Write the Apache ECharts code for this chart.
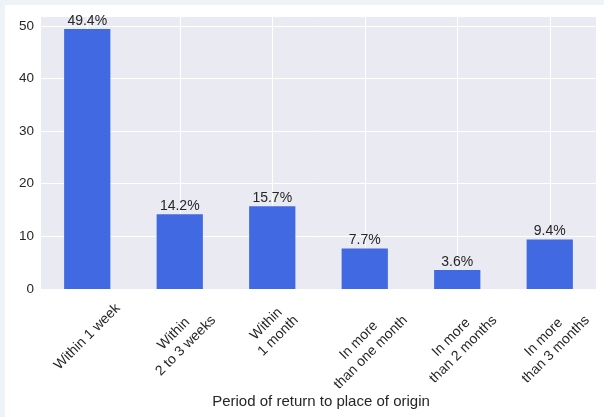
<!DOCTYPE html>
<html><head><meta charset="utf-8">
<script src="https://cdn.jsdelivr.net/npm/echarts@6/dist/echarts.min.js"></script>
<style>
html,body{margin:0;padding:0;background:#eef3f8;width:604px;height:417px;overflow:hidden}
#c{position:absolute;left:5px;top:5px;width:599px;height:412px;background:#ffffff}
</style></head>
<body><div id="c"></div>
<script>
const categories = ['Within 1 week', 'Within\n2 to 3 weeks', 'Within\n1 month', 'In more\nthan one month', 'In more\nthan 2 months', 'In more\nthan 3 months'];
const values = [49.4, 14.2, 15.7, 7.7, 3.6, 9.4];
const yTickInterval = 10;
const yMax = 51.87;
const xAxisTitle = 'Period of return to place of origin';

// ---- layout / style ----
const FONT = '"Liberation Sans", Arial, sans-serif';
const FS = 14, LH = 17, PAD = 11;
const cv = document.createElement('canvas').getContext('2d');
cv.font = FS + 'px ' + FONT;
// place each rotated label like matplotlib: rotated bounding box centred under the tick, top PAD px below axis
const catData = categories.map((t) => {
  const lines = t.split('\n');
  const w = Math.max(...lines.map(l => cv.measureText(l).width));
  const H = lines.length * LH;
  const Y = PAD + 0.35355 * (w + H);   // screen offset of block centre below axis
  const X = 0;
  const b = (X + Y) / 1.41421;         // local (rotated) down offset of centre
  const a = (X - Y) / 1.41421;         // local along-text offset of centre
  const top = Math.max(0, b - H / 2);
  const left = a > 0 ? 2 * a : 0;
  const right = a < 0 ? -2 * a : 0;
  return { value: t, textStyle: { align: 'center', verticalAlign: 'top', padding: [top, right, 0, left], lineHeight: LH, fontSize: FS, fontFamily: FONT, color: '#262626' } };
});

const chart = echarts.init(document.getElementById('c'), null, { renderer: 'canvas' });
chart.setOption({
  animation: false,
  backgroundColor: '#ffffff',
  grid: { left: 36, top: 11, width: 555, height: 273, show: true, backgroundColor: '#eaeaf2', borderWidth: 0, containLabel: false, outerBoundsMode: 'none' },
  xAxis: {
    type: 'category',
    data: catData,
    boundaryGap: true,
    axisLine: { show: false },
    axisTick: { show: false },
    splitLine: { show: true, interval: 0, alignWithLabel: true, lineStyle: { color: '#ffffff', width: 1 } },
    axisLabel: { interval: 0, rotate: 45, align: 'center', verticalAlign: 'top', margin: 0, fontSize: FS, lineHeight: LH, fontFamily: FONT, color: '#262626', hideOverlap: false },
    name: xAxisTitle,
    nameLocation: 'middle',
    nameGap: 105,
    nameMoveOverlap: false,
    nameTextStyle: { fontSize: 15, fontFamily: FONT, color: '#262626', padding: [0, 0, 0, 5] }
  },
  yAxis: {
    type: 'value',
    min: 0,
    max: yMax,
    interval: yTickInterval,
    axisLine: { show: false },
    axisTick: { show: false },
    splitLine: { show: true, lineStyle: { color: '#ffffff', width: 1 } },
    axisLabel: { margin: 7, fontSize: 13.5, fontFamily: FONT, color: '#262626', showMaxLabel: false,
      formatter: v => (v % yTickInterval === 0 ? String(v) : '') }
  },
  series: [{
    type: 'bar',
    data: values,
    barWidth: '50%',
    itemStyle: { color: '#4169e1' },
    label: { show: true, position: 'top', distance: 1, fontSize: 14, fontFamily: FONT, color: '#262626',
      formatter: p => p.value.toFixed(1) + '%' }
  }]
});
</script>
</body></html>
